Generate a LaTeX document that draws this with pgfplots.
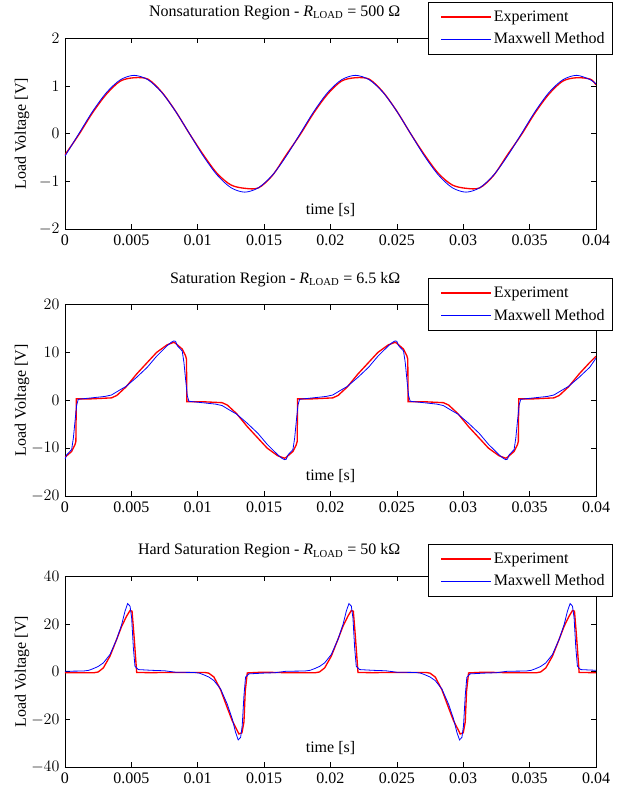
\documentclass[border=0pt,12pt]{standalone}
\usepackage{fontspec}
\setmainfont{Liberation Serif}
\usepackage{pgfplots}
\pgfplotsset{compat=1.18}

% common look of the three panels (MATLAB style)
\pgfplotsset{
  wave/.style={
    width=398.25pt, height=143.6pt, scale only axis,
    xmin=0, xmax=0.04,
    xtick={0,0.005,0.01,0.015,0.02,0.025,0.03,0.035,0.04},
    xticklabels={0,0.005,0.01,0.015,0.02,0.025,0.03,0.035,0.04},
    scaled x ticks=false,
    tick align=inside,
    major tick length=4pt,
    axis line style={line width=0.7pt},
    every tick/.style={black, line width=0.5pt},
    xlabel={time [s]},
    xlabel style={at={(axis description cs:0.5,0.104)}, anchor=center},
    ylabel={Load Voltage [V]},
    ylabel style={at={(axis description cs:-0.081,0.5)}, anchor=center},
    legend cell align=left,
    legend style={draw=black, line width=0.7pt, anchor=north east,
      inner xsep=4pt, inner ysep=4pt, row sep=3pt},
    legend image code/.code={\path (-5pt,0pt); \draw[##1] (0pt,0pt) -- (37pt,0pt);},
  },
  expt/.style={red, line width=1.0pt},
  maxw/.style={blue, line width=0.6pt},
}

\begin{document}
\begin{tikzpicture}
\path (-48.75pt,28.5pt) rectangle (423.75pt,-564pt);

% ---------- nonsaturation ----------
\begin{axis}[wave, at={(0pt,0pt)}, anchor=north west,
    ymin=-2, ymax=2, ytick={-2,-1,0,1,2},
    title={Nonsaturation Region - \textit{R}\textsubscript{LOAD} = 500 Ω},
    title style={at={(axis description cs:0.642,1.09)}, anchor=east},
    legend style={at={(axis description cs:1.032,1.188)}}]
\addplot[expt, smooth] coordinates {
 (0,-0.44) (0.00104,-0.02) (0.00208,0.44) (0.00313,0.83) (0.00417,1.10) (0.00521,1.17)
 (0.00625,1.14) (0.00729,0.87) (0.00833,0.47) (0.00938,0.0) (0.01042,-0.44) (0.01146,-0.83)
 (0.0125,-1.07) (0.01354,-1.14) (0.01458,-1.13) (0.01563,-0.87) (0.01667,-0.44) (0.01771,-0.02)
 (0.01875,0.44) (0.01979,0.83) (0.02083,1.10) (0.02188,1.17) (0.02292,1.14) (0.02396,0.87)
 (0.025,0.47) (0.02604,0.0) (0.02708,-0.44) (0.02813,-0.83) (0.02917,-1.07) (0.03021,-1.14)
 (0.03125,-1.13) (0.03229,-0.87) (0.03333,-0.44) (0.03438,-0.02) (0.03542,0.44) (0.03646,0.83)
 (0.0375,1.10) (0.03854,1.17) (0.03958,1.14) (0.04,1.02)
};
\addlegendentry{Experiment}
\addplot[maxw, smooth] coordinates {
 (0,-0.467) (0.00104,0) (0.00208,0.467) (0.00313,0.863) (0.00417,1.127) (0.00521,1.22)
 (0.00625,1.127) (0.00729,0.863) (0.00833,0.467) (0.00938,0) (0.01042,-0.467) (0.01146,-0.863)
 (0.0125,-1.127) (0.01354,-1.22) (0.01458,-1.127) (0.01563,-0.863) (0.01667,-0.467) (0.01771,0)
 (0.01875,0.467) (0.01979,0.863) (0.02083,1.127) (0.02188,1.22) (0.02292,1.127) (0.02396,0.863)
 (0.025,0.467) (0.02604,0) (0.02708,-0.467) (0.02813,-0.863) (0.02917,-1.127) (0.03021,-1.22)
 (0.03125,-1.127) (0.03229,-0.863) (0.03333,-0.467) (0.03438,0) (0.03542,0.467) (0.03646,0.863)
 (0.0375,1.127) (0.03854,1.22) (0.03958,1.127) (0.04,1.04)
};
\addlegendentry{Maxwell Method}
\end{axis}

% ---------- saturation ----------
\begin{axis}[wave, at={(0pt,-199.9pt)}, anchor=north west,
    ymin=-20, ymax=20, ytick={-20,-10,0,10,20},
    title={Saturation Region - \textit{R}\textsubscript{LOAD} = 6.5 kΩ},
    title style={at={(axis description cs:0.642,1.09)}, anchor=east},
    legend style={at={(axis description cs:1.032,1.138)}}]
\addplot[expt] coordinates {
 (0,-11.9) (0.0005,-10.7) (0.00075,-9.3) (0.00082,-8.6) (0.00085,0.3) (0.002,0.3) (0.0035,0.5)
 (0.0039,1.0) (0.0046,2.8) (0.0054,5.5) (0.0062,7.9) (0.0069,10.0) (0.0077,11.6) (0.0082,12.1)
 (0.00833,11.9) (0.00883,10.7) (0.00908,9.3) (0.00915,8.6) (0.00918,-0.3) (0.01033,-0.3)
 (0.01183,-0.5) (0.01223,-1.0) (0.01293,-2.8) (0.01373,-5.5) (0.01453,-7.9) (0.01523,-10.0)
 (0.01603,-11.6) (0.01653,-12.1)
 (0.01667,-11.9) (0.01717,-10.7) (0.01742,-9.3) (0.01749,-8.6) (0.01752,0.3) (0.01867,0.3)
 (0.02017,0.5) (0.02057,1.0) (0.02127,2.8) (0.02207,5.5) (0.02287,7.9) (0.02357,10.0)
 (0.02437,11.6) (0.02487,12.1) (0.025,11.9) (0.0255,10.7) (0.02575,9.3) (0.02582,8.6)
 (0.02585,-0.3) (0.027,-0.3) (0.0285,-0.5) (0.0289,-1.0) (0.0296,-2.8) (0.0304,-5.5)
 (0.0312,-7.9) (0.0319,-10.0) (0.0327,-11.6) (0.0332,-12.1)
 (0.03333,-11.9) (0.03383,-10.7) (0.03408,-9.3) (0.03415,-8.6) (0.03418,0.3) (0.03533,0.3)
 (0.03683,0.5) (0.03723,1.0) (0.03793,2.8) (0.03873,5.5) (0.03953,7.9) (0.04,9.2)
};
\addlegendentry{Experiment}
\addplot[maxw] coordinates {
 (0,-12.3) (0.00013,-11.4) (0.0005,-10.3) (0.00063,-7.9) (0.00075,-4.5) (0.00088,-1.0)
 (0.001,0.2) (0.0013,0.3) (0.002,0.5) (0.003,0.8) (0.0035,1.1) (0.0041,2.1) (0.0046,2.9)
 (0.0054,4.8) (0.0062,6.9) (0.0069,9.2) (0.0077,11.4) (0.008,12.1) (0.0082,12.4)
 (0.00833,12.3) (0.00846,11.4) (0.00883,10.3) (0.00896,7.9) (0.00908,4.5) (0.00921,1.0)
 (0.00933,-0.2) (0.00963,-0.3) (0.01033,-0.5) (0.01133,-0.8) (0.01183,-1.1) (0.01243,-2.1)
 (0.01293,-2.9) (0.01373,-4.8) (0.01453,-6.9) (0.01523,-9.2) (0.01603,-11.4) (0.01633,-12.1)
 (0.01653,-12.4)
 (0.01667,-12.3) (0.0168,-11.4) (0.01717,-10.3) (0.0173,-7.9) (0.01742,-4.5) (0.01755,-1.0)
 (0.01767,0.2) (0.01797,0.3) (0.01867,0.5) (0.01967,0.8) (0.02017,1.1) (0.02077,2.1)
 (0.02127,2.9) (0.02207,4.8) (0.02287,6.9) (0.02357,9.2) (0.02437,11.4) (0.02467,12.1)
 (0.02487,12.4) (0.025,12.3) (0.02513,11.4) (0.0255,10.3) (0.02563,7.9) (0.02575,4.5)
 (0.02588,1.0) (0.026,-0.2) (0.0263,-0.3) (0.027,-0.5) (0.028,-0.8) (0.0285,-1.1) (0.0291,-2.1)
 (0.0296,-2.9) (0.0304,-4.8) (0.0312,-6.9) (0.0319,-9.2) (0.0327,-11.4) (0.033,-12.1)
 (0.0332,-12.4)
 (0.03333,-12.3) (0.03346,-11.4) (0.03383,-10.3) (0.03396,-7.9) (0.03408,-4.5) (0.03421,-1.0)
 (0.03433,0.2) (0.03463,0.3) (0.03533,0.5) (0.03633,0.8) (0.03683,1.1) (0.03743,2.1)
 (0.03793,2.9) (0.03873,4.8) (0.03953,6.9) (0.04,8.8)
};
\addlegendentry{Maxwell Method}
\end{axis}

% ---------- hard saturation ----------
\begin{axis}[wave, at={(0pt,-403.5pt)}, anchor=north west,
    ymin=-40, ymax=40, ytick={-40,-20,0,20,40},
    title={Hard Saturation Region - \textit{R}\textsubscript{LOAD} = 50 kΩ},
    title style={at={(axis description cs:0.642,1.09)}, anchor=east},
    legend style={at={(axis description cs:1.032,1.167)}}]
\addplot[expt] coordinates {
 (0,-0.4) (0.0022,-0.4) (0.0025,-0.1) (0.00289,1.6) (0.00339,6.5) (0.00389,13.5) (0.00427,19.0)
 (0.00464,23.2) (0.0049,25.6) (0.00505,25.3) (0.0052,15.0) (0.0054,-0.3) (0.0065,-0.4)
 (0.0075,-0.3) (0.00833,-0.3) (0.01053,-0.3) (0.01083,-0.6) (0.01122,-2.2) (0.01172,-7.5)
 (0.01222,-15.0) (0.0126,-20.5) (0.01297,-24.5) (0.0131,-26.0) (0.01333,-25.5) (0.01348,-21.0)
 (0.01358,-8.0) (0.01373,-0.5) (0.01483,-0.2) (0.01583,-0.3)
 (0.01667,-0.4) (0.01887,-0.4) (0.01917,-0.1) (0.01956,1.6) (0.02006,6.5) (0.02056,13.5)
 (0.02094,19.0) (0.02131,23.2) (0.02157,25.6) (0.02172,25.3) (0.02187,15.0) (0.02207,-0.3)
 (0.02317,-0.4) (0.02417,-0.3) (0.025,-0.3) (0.0272,-0.3) (0.0275,-0.6) (0.02789,-2.2)
 (0.02839,-7.5) (0.02889,-15.0) (0.02927,-20.5) (0.02964,-24.5) (0.02977,-26.0) (0.03,-25.5)
 (0.03015,-21.0) (0.03025,-8.0) (0.0304,-0.5) (0.0315,-0.2) (0.0325,-0.3)
 (0.03333,-0.4) (0.03553,-0.4) (0.03583,-0.1) (0.03622,1.6) (0.03672,6.5) (0.03722,13.5)
 (0.0376,19.0) (0.03797,23.2) (0.03823,25.6) (0.03838,25.3) (0.03853,15.0) (0.03873,-0.3)
 (0.04,-0.4)
};
\addlegendentry{Experiment}
\addplot[maxw] coordinates {
 (0,0.2) (0.0014,0.3) (0.0018,0.6) (0.00213,1.3) (0.0025,2.2) (0.00289,3.7) (0.00339,7.2)
 (0.00389,13.5) (0.00427,19.7) (0.00452,25.3) (0.00472,28.5) (0.0049,27.4) (0.00502,22.5)
 (0.00515,10.0) (0.00527,2.3) (0.00552,0.9) (0.0065,0.6) (0.0075,0.4)
 (0.00833,-0.2) (0.00973,-0.3) (0.01013,-0.6) (0.01046,-1.3) (0.01083,-2.2) (0.01122,-3.7)
 (0.01172,-7.2) (0.01222,-13.5) (0.0126,-19.7) (0.01285,-25.3) (0.01305,-28.5) (0.01323,-27.4)
 (0.01335,-22.5) (0.01348,-10.0) (0.0136,-2.3) (0.01385,-0.9) (0.01483,-0.6) (0.01583,-0.4)
 (0.01667,0.2) (0.01807,0.3) (0.01847,0.6) (0.0188,1.3) (0.01917,2.2) (0.01956,3.7)
 (0.02006,7.2) (0.02056,13.5) (0.02094,19.7) (0.02119,25.3) (0.02139,28.5) (0.02157,27.4)
 (0.02169,22.5) (0.02182,10.0) (0.02194,2.3) (0.02219,0.9) (0.02317,0.6) (0.02417,0.4)
 (0.025,-0.2) (0.0264,-0.3) (0.0268,-0.6) (0.02713,-1.3) (0.0275,-2.2) (0.02789,-3.7)
 (0.02839,-7.2) (0.02889,-13.5) (0.02927,-19.7) (0.02952,-25.3) (0.02972,-28.5) (0.0299,-27.4)
 (0.03002,-22.5) (0.03015,-10.0) (0.03027,-2.3) (0.03052,-0.9) (0.0315,-0.6) (0.0325,-0.4)
 (0.03333,0.2) (0.03473,0.3) (0.03513,0.6) (0.03546,1.3) (0.03583,2.2) (0.03622,3.7)
 (0.03672,7.2) (0.03722,13.5) (0.0376,19.7) (0.03785,25.3) (0.03805,28.5) (0.03823,27.4)
 (0.03835,22.5) (0.03848,10.0) (0.0386,2.3) (0.03885,0.9) (0.04,0.6)
};
\addlegendentry{Maxwell Method}
\end{axis}
\end{tikzpicture}
\end{document}
